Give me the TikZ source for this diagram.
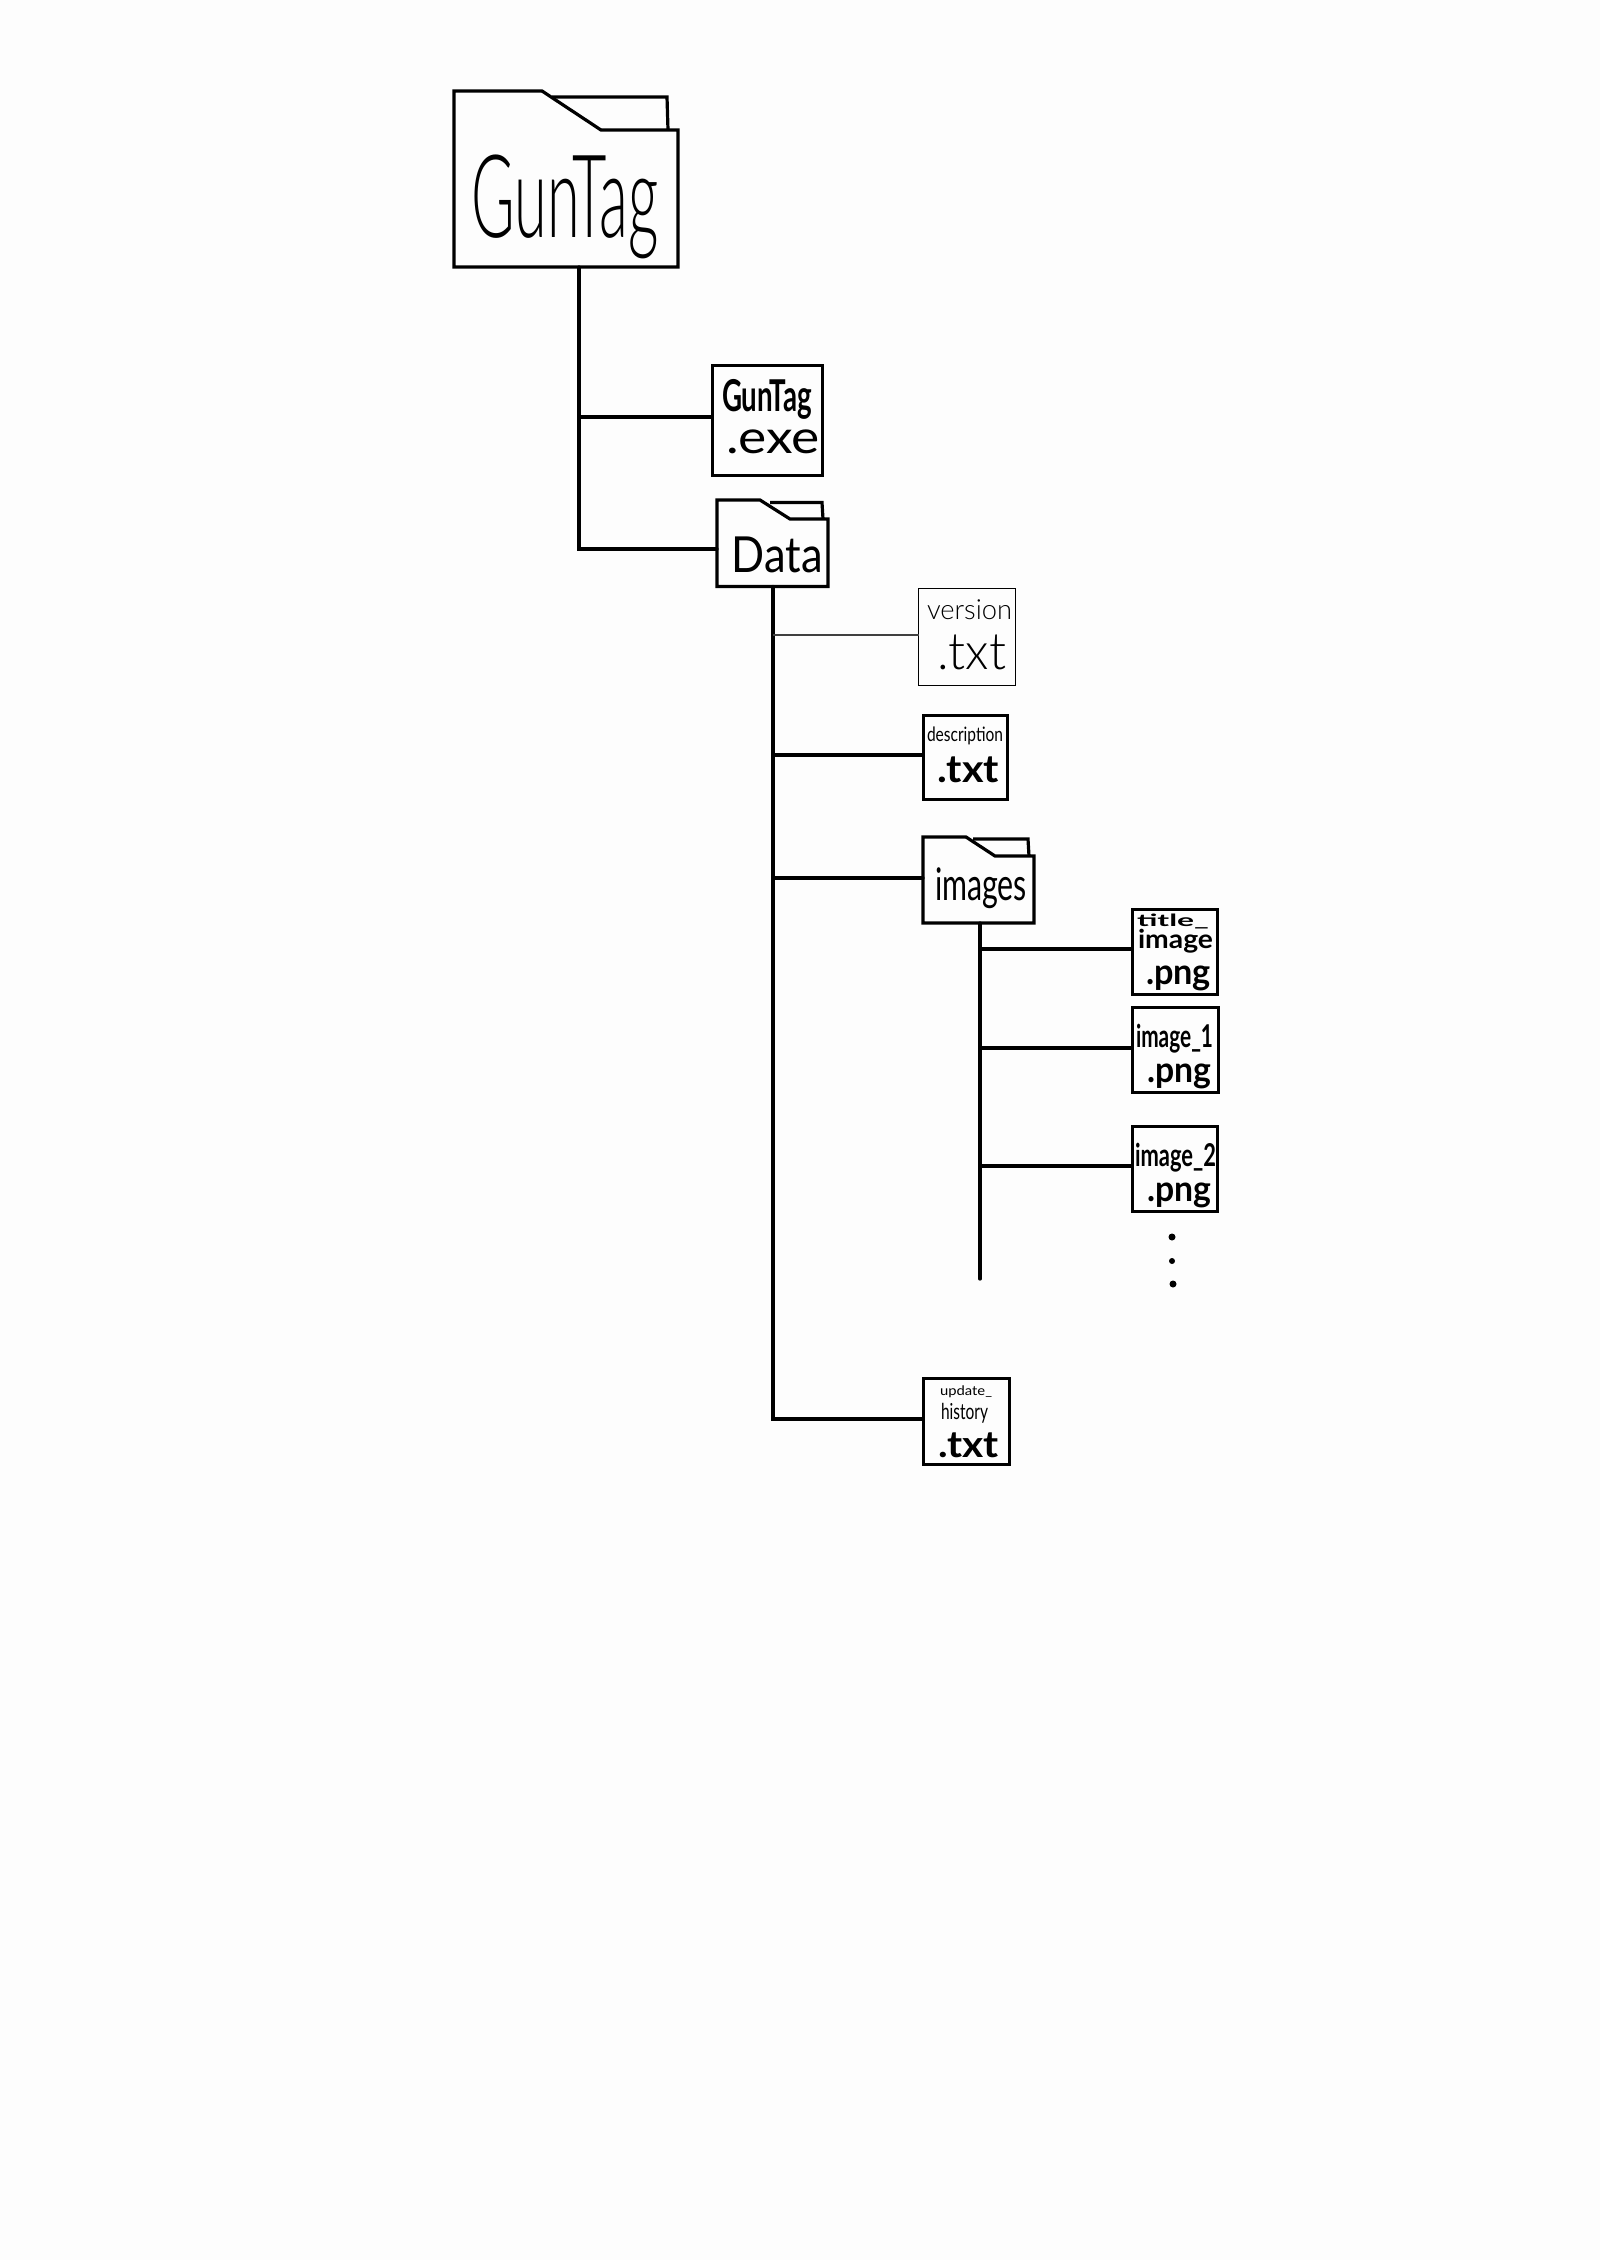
\documentclass[tikz,border=0pt]{standalone}
\usepackage{graphicx}
\usepackage{fontspec}
\setmainfont{Lato}
\newfontfamily\handthin[UprightFont={* Light}]{Lato}
\definecolor{paper}{HTML}{FDFDFD}
\newcommand{\hw}[3]{\resizebox*{#1pt}{#2pt}{#3}}
\tikzset{
  x=1pt,y=-1pt,
  link/.style={line width=3.2pt,line cap=round,line join=miter,black},
  thinlink/.style={line width=1.4pt,black!75},
  fileicon/.style={draw=black,line width=3pt,fill=paper,inner sep=0pt,outer sep=0pt,minimum width=#1pt,minimum height=#1pt},
  thinicon/.style={fileicon=#1,line width=1.5pt},
  folderarea/.style n args={2}{inner sep=0pt,outer sep=0pt,minimum width=#1pt,minimum height=#2pt},
  folderline/.style={draw=black,line width=3.2pt,line join=miter,fill=paper},
  tabline/.style={draw=black,line width=3.2pt,line join=miter},
  script/.style={inner sep=0pt,outer sep=0pt,font=\handthin},
  plainhand/.style={inner sep=0pt,outer sep=0pt},
  heavy/.style={inner sep=0pt,outer sep=0pt,font=\fontseries{b}\selectfont},
  dotmark/.style={circle,fill=black,inner sep=0pt,minimum size=#1pt},
}
\begin{document}
\begin{tikzpicture}
\fill[paper] (0,0) rectangle (1600,2260);
\useasboundingbox (0,0) rectangle (1600,2260);

% folders (areas that the connectors attach to)
\node[folderarea={224}{176}] (guntag) at (566,179) {};
\node[folderarea={111}{86.5}] (data)  at (772.5,543.25) {};
\node[folderarea={111}{86}]  (images) at (978.5,880) {};

% folder outlines
\draw[tabline] (552,97) -- (667,97) -- (668,130);
\draw[folderline] (454,91) -- (542,91) -- (601,130) -- (678,130) -- (678,267) -- (454,267) -- cycle;
\draw[tabline] (770,502.5) -- (822,502.5) -- (823,519);
\draw[folderline] (717,500) -- (760,500) -- (790,519) -- (828,519) -- (828,586.5) -- (717,586.5) -- cycle;
\draw[tabline] (973,839) -- (1028,839) -- (1029,856);
\draw[folderline] (923,837) -- (966,837) -- (995,856) -- (1034,856) -- (1034,923) -- (923,923) -- cycle;

% file boxes
\node[fileicon=110] (exe) at (767,420) {};
\node[thinicon=97]  (version) at (967,637) {};
\node[fileicon=84]  (description) at (965,757) {};
\node[fileicon=85]  (titleimg) at (1174.5,951.5) {};
\node[fileicon=85,minimum width=86pt] (imgone) at (1175,1049.5) {};
\node[fileicon=85]  (imgtwo) at (1174.5,1168.5) {};
\node[fileicon=86]  (update) at (966,1421) {};

% junctions
\coordinate (jexe)  at (579,417);
\coordinate (jdata) at (579,549);
\coordinate (jver)  at (773,635);
\coordinate (jdesc) at (773,755);
\coordinate (jimg)  at (773,878);
\coordinate (jupd)  at (773,1419);
\coordinate (jtitle) at (980,949);
\coordinate (jone)   at (980,1048);
\coordinate (jtwo)   at (980,1166);
\coordinate (jend)   at (980,1279);

% connectors
\draw[link] (guntag.south -| jexe) -- (jdata) -- (data.west |- jdata);
\draw[link] (jexe) -- (exe.west |- jexe);
\draw[link] (data.south -| jver) -- (jupd) -- (update.west |- jupd);
\draw[thinlink] (jver) -- (version.west |- jver);
\draw[link] (jdesc) -- (description.west |- jdesc);
\draw[link] (jimg) -- (images.west |- jimg);
\draw[link] (images.south -| jend) -- (jend);
\draw[link] (jtitle) -- (titleimg.west |- jtitle);
\draw[link] (jone) -- (imgone.west |- jone);
\draw[link] (jtwo) -- (imgtwo.west |- jtwo);

% labels
\node[script] (tguntag) at (565,207) {\hw{187}{104}{GunTag}};
\node[heavy]  (texename) at (767,399) {\hw{90}{40}{GunTag}};
\node[plainhand] (texeext) at (773,442) {\hw{94}{24}{.exe}};
\node[plainhand] (tdata) at (777.5,555) {\hw{91}{36}{Data}};
\node[script] (tvername) at (969.5,610) {\hw{85}{20}{version}};
\node[script] (tverext) at (971.5,652.5) {\hw{69}{35}{.txt}};
\node[plainhand] (tdescname) at (965,736) {\hw{76}{18}{description}};
\node[heavy]  (tdescext) at (968,770) {\hw{62}{26}{.txt}};
\node[plainhand] (timages) at (981,888.5) {\hw{92}{41}{images}};
\node[heavy]  (ttitlea) at (1173,921.5) {\hw{72}{15}{title\_}};
\node[heavy]  (ttitleb) at (1175.5,941) {\hw{75}{24}{image}};
\node[heavy]  (ttitlec) at (1178.5,978.5) {\hw{65}{25}{.png}};
\node[heavy]  (tonea) at (1174.5,1038.5) {\hw{77}{29}{image\_1}};
\node[heavy]  (toneb) at (1179,1076.5) {\hw{64}{25}{.png}};
\node[heavy]  (ttwoa) at (1175.5,1157.5) {\hw{81}{29}{image\_2}};
\node[heavy]  (ttwob) at (1179,1195.5) {\hw{64}{25}{.png}};
\node[plainhand] (tupda) at (966,1392) {\hw{52}{12}{update\_}};
\node[plainhand] (tupdb) at (964.5,1413) {\hw{47}{20}{history}};
\node[heavy]  (tupdc) at (968.5,1445.5) {\hw{61}{25}{.txt}};

% continuation dots
\node[dotmark=7] (dota) at (1172,1237) {};
\node[dotmark=6] (dotb) at (1172,1261) {};
\node[dotmark=7] (dotc) at (1173,1284) {};
\end{tikzpicture}
\end{document}
